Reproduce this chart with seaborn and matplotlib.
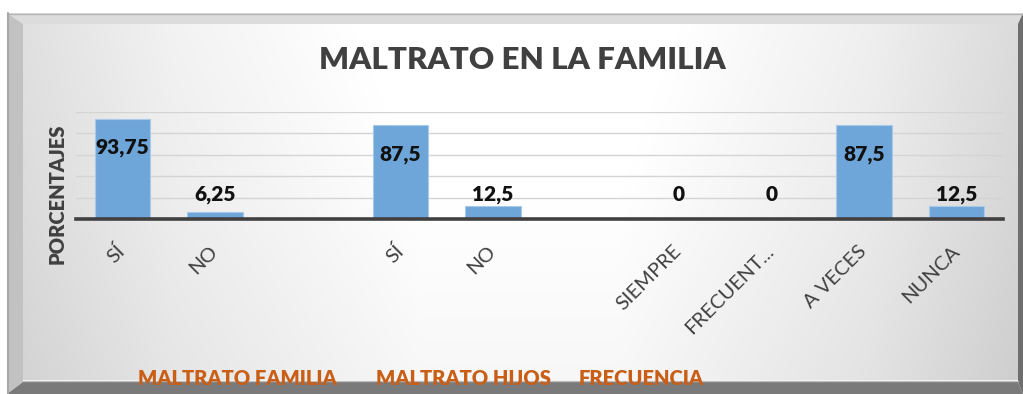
import numpy as np
import pandas as pd
import matplotlib
matplotlib.use("Agg")
import matplotlib.pyplot as plt
from matplotlib.patches import Polygon
import seaborn as sns

# ---- data ---------------------------------------------------------------
groups = ["MALTRATO FAMILIA", "MALTRATO HIJOS", "FRECUENCIA"]
group_categories = [
    ["SÍ", "NO"],
    ["SÍ", "NO"],
    ["SIEMPRE", "FRECUENT...", "A VECES", "NUNCA"],
]
group_values = [
    [93.75, 6.25],
    [87.5, 12.5],
    [0, 0, 87.5, 12.5],
]
y_ticks = [0, 20, 40, 60, 80, 100]
title = "MALTRATO EN LA FAMILIA"
y_label = "PORCENTAJES"

# one empty slot between groups on the category axis
rows = []
pos = 0
for g, cats, vals in zip(groups, group_categories, group_values):
    for c, v in zip(cats, vals):
        rows.append({"grupo": g, "categoria": c, "pos": pos, "valor": v})
        pos += 1
    pos += 1
df = pd.DataFrame(rows)

# ---- style --------------------------------------------------------------
sns.set_theme(style="white")
plt.rcParams["font.family"] = ["Lato", "DejaVu Sans"]
BOLD = 800

W, H = 1023, 394
fig = plt.figure(figsize=(W / 100, H / 100), dpi=100)
fig.patch.set_facecolor("white")

# ---- bevelled frame with grey gradient face -------------------------------
bg = fig.add_axes([0, 0, 1, 1], zorder=-10)
bg.set_xlim(0, W)
bg.set_ylim(H, 0)
bg.axis("off")

ox0, oy0, ox1, oy1 = 7, 13, 1023, 394      # outer edge
ix0, iy0, ix1, iy1 = 23, 24, 1018, 382     # inner face

bg.add_patch(Polygon([(ox0, oy0), (ox1, oy0), (ix1, iy0), (ix0, iy0)],
                     closed=True, fc="#dcdcdc", ec="none"))
bg.add_patch(Polygon([(ox0, oy0), (ix0, iy0), (ix0, iy1), (ox0, oy1)],
                     closed=True, fc="#c2c2c2", ec="none"))
bg.add_patch(Polygon([(ox0, oy1), (ix0, iy1), (ix1, iy1), (ox1, oy1)],
                     closed=True, fc="#7a7a7a", ec="none"))
bg.add_patch(Polygon([(ox1, oy0), (ox1, oy1), (ix1, iy1), (ix1, iy0)],
                     closed=True, fc="#6e6e6e", ec="none"))
bg.plot([ox0, ox1], [oy0 + 0.5, oy0 + 0.5], color="#b4b4b4", lw=1)
bg.plot([ox0 + 0.5, ox0 + 0.5], [oy0, oy1], color="#a8a8a8", lw=1.5)
bg.plot([ix0, ix1], [iy1 - 1, iy1 - 1], color="#bdbdbd", lw=1)

xs = np.linspace(0, 1, 400)
shade = np.interp(xs, [0, 0.15, 0.4, 0.6, 0.85, 1.0],
                  [0.86, 0.93, 1.0, 1.0, 0.92, 0.84])
ys = np.linspace(0, 1, 100)
vshade = np.interp(ys, [0, 0.5, 1.0], [0.02, 0.0, -0.03])
face = np.clip(shade[None, :] + vshade[:, None], 0, 1)
bg.imshow(np.dstack([face] * 3), extent=(ix0, ix1, iy1 - 1.5, iy0),
          aspect="auto", interpolation="bilinear", zorder=0)

# ---- bar axes -----------------------------------------------------------
x_left, x_right, y_base, y_top = 76, 1003, 219, 112
ax = fig.add_axes([x_left / W, 1 - y_base / H,
                   (x_right - x_left) / W, (y_base - y_top) / H])
ax.set_facecolor("none")

sns.barplot(data=df, x="pos", y="valor", native_scale=True, width=0.6,
            color="#6fa6d9", edgecolor="#a9c9ea", linewidth=0.8,
            saturation=1, ax=ax, zorder=3)

ax.set_xlim(-0.5, pos - 1.5)
ax.set_ylim(0, 100)
ax.set_yticks(y_ticks)
ax.set_yticklabels([])
ax.tick_params(axis="y", length=0)
ax.yaxis.grid(True, color="#d4d4d4", lw=1)
ax.xaxis.grid(False)
for s in ["left", "right", "top"]:
    ax.spines[s].set_visible(False)
ax.spines["bottom"].set_color("#404040")
ax.spines["bottom"].set_linewidth(2.6)
ax.spines["bottom"].set_zorder(4)
ax.set_xlabel("")
ax.set_ylabel("")

ax.set_xticks(df["pos"])
ax.set_xticklabels(df["categoria"], rotation=45, ha="right", va="center",
                   rotation_mode="anchor", fontsize=14.5, color="#404040")
ax.tick_params(axis="x", length=0, pad=21)

# value labels
for _, r in df.iterrows():
    v = r["valor"]
    ty = v - 27 if v > 50 else 23
    ax.text(r["pos"], ty, f"{v:g}".replace(".", ","), ha="center",
            va="center", fontsize=15, fontweight=BOLD, color="#111111",
            zorder=5)

# ---- texts --------------------------------------------------------------
fig.text(522 / W, 1 - 69 / H, title, ha="center", va="baseline",
         fontsize=22.5, fontweight=BOLD, color="#404040")
fig.text(57 / W, 1 - 193.5 / H, y_label, ha="center", va="center",
         rotation=90, fontsize=14.5, fontweight=BOLD, color="#404040")

group_x = [138, 376, 579]
for g, gx in zip(groups, group_x):
    fig.text(gx / W, 1 - 385 / H, g, ha="left", va="baseline",
             fontsize=14.5, fontweight=BOLD, color="#c95e17")

fig.savefig("out.png", dpi=100, facecolor=fig.get_facecolor())
